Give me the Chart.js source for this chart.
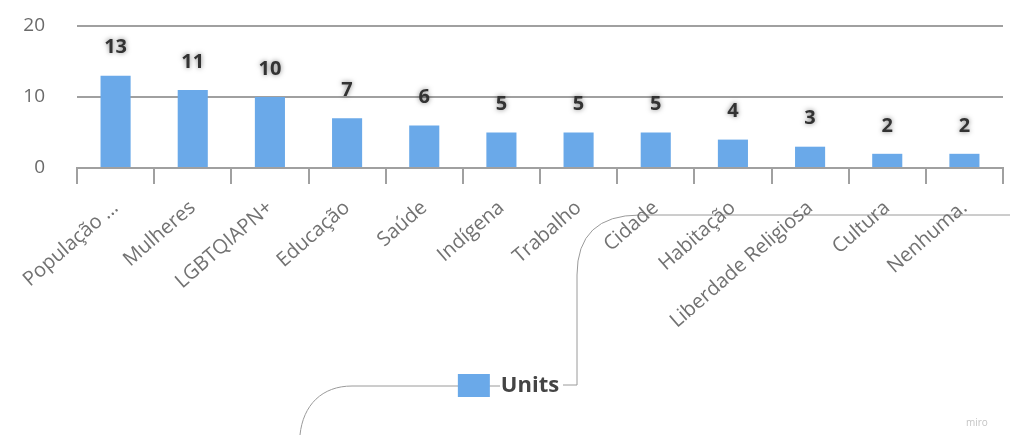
<!DOCTYPE html>
<html>
<head>
<meta charset="utf-8">
<script src="https://cdn.jsdelivr.net/npm/chart.js@4.4.0/dist/chart.umd.min.js"></script>
<style>
  html, body { margin: 0; padding: 0; background: #fff; }
  #wrap { width: 1010px; height: 435px; position: relative; }
</style>
</head>
<body>
<div id="wrap"><canvas id="unitsChart"></canvas></div>
<script>
// chart data
const categories = ['População ...', 'Mulheres', 'LGBTQIAPN+', 'Educação', 'Saúde', 'Indígena',
    'Trabalho', 'Cidade', 'Habitação', 'Liberdade Religiosa', 'Cultura', 'Nenhuma.'];
const unitValues = [13, 11, 10, 7, 6, 5, 5, 5, 4, 3, 2, 2];
const yTicks = [0, 10, 20];
const seriesName = 'Units';

const barColor = '#6aa9e9';
const axisGray = '#a0a0a0';

// value labels above each bar, with a soft dark halo
const valueLabels = {
    id: 'valueLabels',
    afterDatasetsDraw(chart) {
        const ctx = chart.ctx;
        const meta = chart.getDatasetMeta(0);
        ctx.save();
        ctx.font = 'bold 20px "Open Sans", sans-serif';
        ctx.textAlign = 'center';
        ctx.textBaseline = 'middle';
        meta.data.forEach(function(bar, i) {
            ctx.shadowColor = 'rgba(0,0,0,0.5)';
            ctx.shadowBlur = 5;
            ctx.fillStyle = '#333';
            ctx.fillText(String(unitValues[i]), bar.x, bar.y - 28);
        });
        ctx.restore();
    }
};

// board connectors and watermark that sit behind the chart
const boardLines = {
    id: 'boardLines',
    beforeDraw(chart) {
        const ctx = chart.ctx;
        ctx.save();
        ctx.strokeStyle = '#9a9a9a';
        ctx.lineWidth = 1;
        ctx.beginPath();
        ctx.moveTo(1010, 215);
        ctx.lineTo(640, 215);
        ctx.quadraticCurveTo(577, 215, 577, 275);
        ctx.lineTo(577, 385);
        ctx.lineTo(563, 385);
        ctx.stroke();
        ctx.beginPath();
        ctx.moveTo(500, 386);
        ctx.lineTo(352, 386);
        ctx.bezierCurveTo(322, 386, 303, 405, 300, 435);
        ctx.stroke();
        ctx.font = '10px "Open Sans", sans-serif';
        ctx.fillStyle = '#c4c4c4';
        ctx.fillText('miro', 966, 423);
        ctx.restore();
    }
};

const ctx = document.getElementById('unitsChart').getContext('2d');
new Chart(ctx, {
    type: 'bar',
    data: {
        labels: categories,
        datasets: [{
            label: seriesName,
            data: unitValues,
            backgroundColor: barColor,
            borderWidth: 0,
            barPercentage: 0.39,
            categoryPercentage: 1
        }]
    },
    options: {
        responsive: true,
        maintainAspectRatio: false,
        animation: false,
        layout: { padding: { top: 26, right: 7, left: 14, bottom: 28 } },
        scales: {
            x: {
                grid: {
                    offset: true,
                    drawOnChartArea: false,
                    drawTicks: true,
                    tickLength: 16,
                    color: axisGray,
                    lineWidth: 2
                },
                border: { display: true, color: axisGray, width: 2 },
                ticks: {
                    minRotation: 41,
                    maxRotation: 41,
                    autoSkip: false,
                    padding: 12,
                    color: '#727272',
                    font: { family: '"Open Sans", sans-serif', size: 20 }
                },
                afterFit(scale) { scale.height = 196; }
            },
            y: {
                min: yTicks[0],
                max: yTicks[yTicks.length - 1],
                afterBuildTicks(scale) { scale.ticks = yTicks.map(v => ({ value: v })); },
                grid: { color: axisGray, lineWidth: 2, drawTicks: false, tickLength: 0 },
                border: { display: false },
                ticks: {
                    padding: 32,
                    color: '#6a6a6a',
                    font: { family: '"Open Sans", sans-serif', size: 19 }
                },
                afterFit(scale) {
                    scale.width = 63;
                    // tick padding is only meant to push labels left, not down the plot
                    scale.paddingTop = 10;
                    scale.paddingBottom = 10;
                }
            }
        },
        plugins: {
            legend: {
                position: 'bottom',
                labels: {
                    boxWidth: 32,
                    boxHeight: 23,
                    padding: 10,
                    color: '#444',
                    font: { family: '"Open Sans", sans-serif', size: 22, weight: 'bold' }
                }
            },
            tooltip: { enabled: false }
        }
    },
    plugins: [boardLines, valueLabels]
});
</script>
</body>
</html>
